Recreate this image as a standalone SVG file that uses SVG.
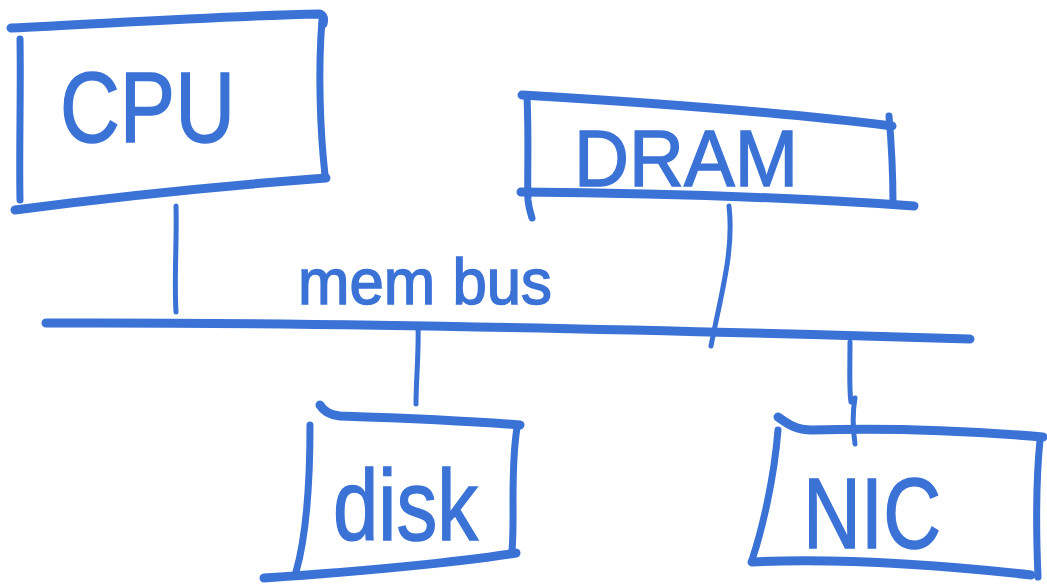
<svg xmlns="http://www.w3.org/2000/svg" width="1047" height="585" viewBox="0 0 1047 585">
  <style>
    .ink { fill: none; stroke: #3b72d6; stroke-linecap: round; stroke-linejoin: round; }
    .thick { stroke-width: 9; }
    .mid { stroke-width: 7; }
    .thin { stroke-width: 5; }
    .label { fill: #3b72d6; stroke: #3b72d6; stroke-width: 1.5; font-family: "Liberation Sans", Arial, sans-serif; font-weight: normal; }
  </style>
  <rect width="1047" height="585" fill="#ffffff"/>

  <!-- bus and links -->
  <g id="connectors">
    <path class="ink thick" d="M46,323 C300,322 600,328 970,339"/>
    <path class="ink thin" d="M176,206 C177,240 174,280 176,312"/>
    <path class="ink thin" d="M729,206 C734,250 722,290 711,346"/>
    <path class="ink thin" d="M418,326 C419,350 416,380 416,404"/>
    <path class="ink thin" d="M850,342 C850,370 849,390 851,402 M855,398 C852,415 853,430 855,444"/>
  </g>

  <g id="cpu">
    <path class="ink thick" d="M11,28 C100,24 220,16 320,14 C324,16 324,20 323,24"/>
    <path class="ink mid" d="M20,39 C21,90 19,150 20,200"/>
    <path class="ink mid" d="M322,20 C318,70 320,130 325,175"/>
    <path class="ink thick" d="M15,210 C120,196 220,186 326,178"/>
    <text class="label" x="60" y="142" font-size="100" textLength="175" lengthAdjust="spacingAndGlyphs">CPU</text>
  </g>

  <g id="dram">
    <path class="ink thick" d="M522,95 C640,102 780,112 892,126"/>
    <path class="ink mid" d="M527,97 C529,140 527,180 528,200 C529,210 531,214 532,218"/>
    <path class="ink mid" d="M889,116 C892,150 893,180 893,205"/>
    <path class="ink thick" d="M521,192 C660,193 800,198 914,206"/>
    <text class="label" x="574" y="186" font-size="80" textLength="224" lengthAdjust="spacingAndGlyphs">DRAM</text>
  </g>

  <text class="label" x="298" y="304" font-size="64" textLength="254" lengthAdjust="spacingAndGlyphs">mem bus</text>

  <g id="disk">
    <path class="ink thick" d="M320,405 C324,412 330,415 340,416 C400,418 470,421 520,425"/>
    <path class="ink mid" d="M310,425 C310,470 308,530 296,572"/>
    <path class="ink mid" d="M517,428 C510,470 515,520 512,550"/>
    <path class="ink thick" d="M264,578 C350,572 440,565 516,553"/>
    <text class="label" x="333" y="540" font-size="100" textLength="145" lengthAdjust="spacingAndGlyphs">disk</text>
  </g>

  <g id="nic">
    <path class="ink thick" d="M778,417 C788,424 796,430 812,430 C880,428 960,430 1043,437"/>
    <path class="ink mid" d="M778,430 C774,480 762,530 752,560"/>
    <path class="ink mid" d="M1040,440 C1036,480 1036,530 1038,577"/>
    <path class="ink thick" d="M752,562 C840,558 940,565 1031,575"/>
    <text class="label" x="803" y="548" font-size="100" textLength="138" lengthAdjust="spacingAndGlyphs">NIC</text>
  </g>
</svg>
